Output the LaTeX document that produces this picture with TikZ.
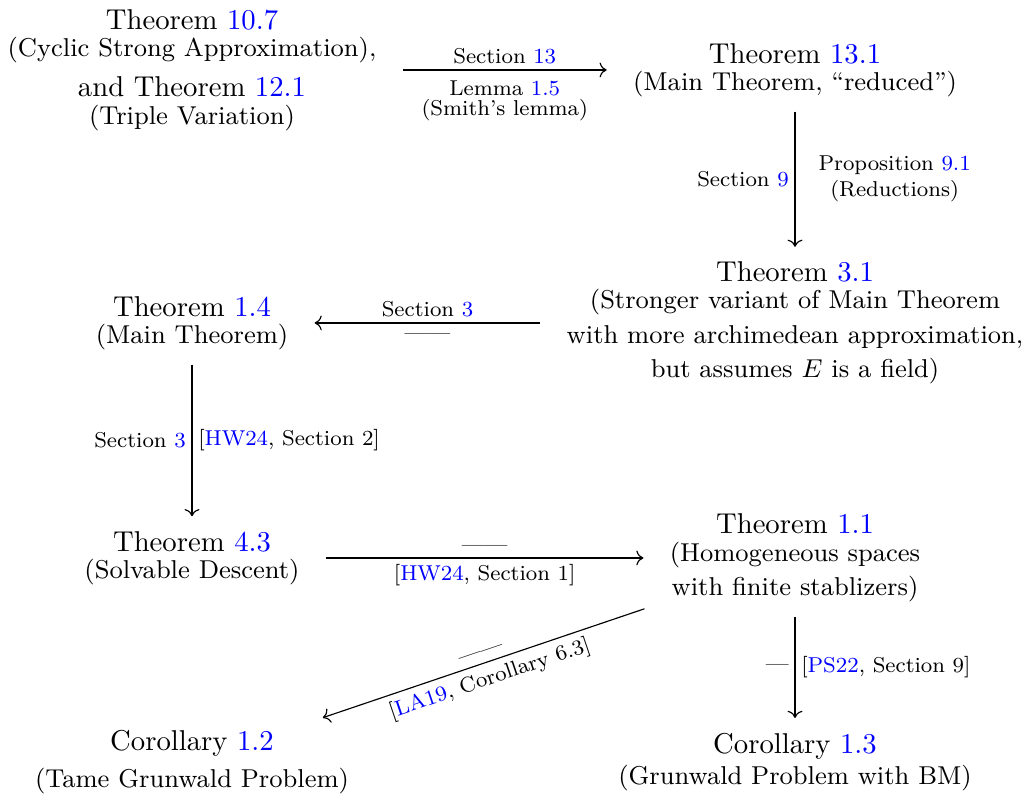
\documentclass[tikz,border=0pt]{standalone}
\usepackage{xcolor}
\usetikzlibrary{arrows.meta, positioning}
\definecolor{refblue}{RGB}{0,0,255}
\newcommand{\rf}[1]{\textcolor{refblue}{#1}}
\tikzset{
    thm/.style={align=center, inner sep=2pt},
    lbl/.style={font=\fontsize{7.5pt}{9pt}\selectfont, inner sep=2pt, align=center},
    harr/.style={->, shorten <=7pt, shorten >=7pt},
    varr/.style={->, shorten <=3pt, shorten >=3pt},
}

\begin{document}
\begin{tikzpicture}[>=To]
    \useasboundingbox (0,0) rectangle (12.593,9.751);

    % Theorems
    \node[thm] (cyclic) at (2.352,8.894) {Theorem \rf{10.7}\\[-2.5pt] \small (Cyclic Strong Approximation),\\[2pt] \normalsize and Theorem \rf{12.1}\\[-2.5pt] \small (Triple Variation)};
    \node[thm] (reduced) at (9.739,8.894) {Theorem \rf{13.1}\\[-2.5pt] \small (Main Theorem, ``reduced'')};
    \node[thm] (stronger) at (9.739,5.795) {Theorem \rf{3.1}\\[-2.5pt] \small (Stronger variant of Main Theorem\\ \small with more archimedean approximation,\\ \small but assumes $E$ is a field)};
    \node[thm] (main) at (2.352,5.795) {Theorem \rf{1.4}\\[-2.5pt] \small (Main Theorem)};
    \node[thm] (descent) at (2.352,2.916) {Theorem \rf{4.3}\\[-2.5pt] \small (Solvable Descent)};
    \node[thm] (homog) at (9.739,2.916) {Theorem \rf{1.1}\\[-2.5pt] \small (Homogeneous spaces\\ \small with finite stablizers)};
    \node[thm] (tame) at (2.352,0.417) {Corollary \rf{1.2}\\[1pt] \small (Tame Grunwald Problem)};
    \node[thm] (bm) at (9.739,0.417) {Corollary \rf{1.3}\\[-1pt] \small (Grunwald Problem with BM)};

    % Implications
    \draw[harr] (cyclic) -- (reduced)
        node[lbl, midway, above] {Section \rf{13}}
        node[lbl, midway, below, yshift=-1.5pt] {Lemma \rf{1.5}\\[-2pt] (Smith's lemma)};
    \draw[varr] (reduced) -- (stronger)
        node[lbl, midway, left] {Section \rf{9}}
        node[lbl, midway, right, xshift=6pt] {Proposition \rf{9.1}\\ (Reductions)};
    \draw[harr] (stronger) -- (main)
        node[lbl, midway, above] {Section \rf{3}}
        node[lbl, midway, below, yshift=-1.5pt] {------};
    \draw[varr] (main) -- (descent)
        node[lbl, midway, left] {Section \rf{3}}
        node[lbl, midway, right] {[\rf{HW24}, Section 2]};
    \draw[harr] (descent) -- (homog)
        node[lbl, midway, above] {------}
        node[lbl, midway, below] {[\rf{HW24}, Section 1]};
    \draw[->, shorten <=7pt, shorten >=6.5pt] (homog) -- (tame)
        node[lbl, midway, sloped, above] {------}
        node[lbl, midway, sloped, below] {[\rf{LA19}, Corollary 6.3]};
    \draw[varr] (homog) -- (bm)
        node[lbl, midway, left] {---}
        node[lbl, midway, right] {[\rf{PS22}, Section 9]};
\end{tikzpicture}
\end{document}
